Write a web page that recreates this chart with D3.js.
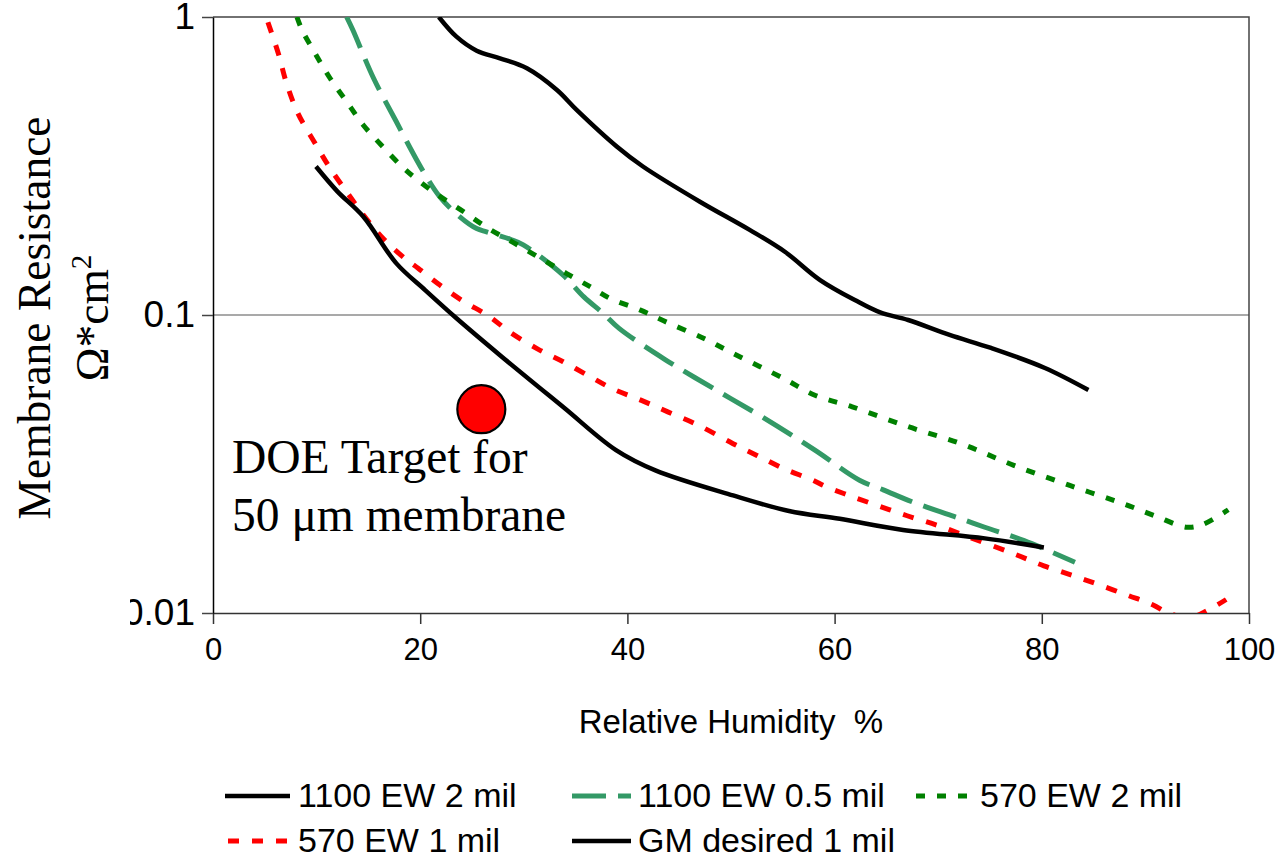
<!DOCTYPE html>
<html>
<head>
<meta charset="utf-8">
<script src="https://cdn.jsdelivr.net/npm/d3@7"></script>
<style>
  html, body { margin: 0; padding: 0; background: #fff; }
  svg { display: block; }
</style>
</head>
<body>
<svg id="chart" width="1281" height="857"></svg>
<script>
// ---------- data ----------
const seriesNames = ["1100 EW 2 mil", "1100 EW 0.5 mil", "570 EW 2 mil", "570 EW 1 mil", "GM desired 1 mil"];
const xTicks = [0, 20, 40, 60, 80, 100];
const yTicks = [1, 0.1, 0.01];
const yTickLabels = ["1", "0.1", "0.01"];

const ew1100_2mil = [[21.8,1.0],[23.5,0.859],[25.45,0.771],[27.7,0.727],[30.3,0.673],[33.2,0.569],[35.1,0.488],[39.0,0.367],[41.5,0.315],[47.0,0.240],[51.8,0.193],[55.2,0.163],[58.6,0.131],[62.0,0.112],[64.4,0.102],[67.1,0.0962],[71.1,0.0857],[75.1,0.0775],[80.3,0.0664],[84.5,0.056]];
const ew1100_05mil = [[12.9,1.0],[13.5,0.904],[15.5,0.623],[17.7,0.445],[18.7,0.382],[20.3,0.303],[21.9,0.249],[23.8,0.214],[25.45,0.195],[26.4,0.190],[28.7,0.1795],[29.95,0.172],[33.8,0.136],[35.8,0.115],[37.7,0.101],[39.2,0.0902],[43.6,0.071],[48.3,0.0567],[53.0,0.0455],[58.1,0.0352],[62.4,0.0279],[64.7,0.0259],[67.5,0.0236],[72.2,0.0207],[74.5,0.0194],[78.3,0.0175],[83.2,0.0148]];
const ew570_2mil = [[8.1,1.0],[8.6,0.904],[9.85,0.756],[11.3,0.623],[12.9,0.520],[14.5,0.434],[16.4,0.367],[18.4,0.311],[19.7,0.285],[21.7,0.253],[24.2,0.222],[26.6,0.195],[29.0,0.175],[31.6,0.155],[34.1,0.138],[36.4,0.1245],[38.3,0.1138],[41.2,0.104],[43.9,0.0942],[47.4,0.0834],[50.2,0.0743],[55.1,0.0612],[58.1,0.0538],[61.7,0.0492],[67.0,0.0423],[72.2,0.037],[77.3,0.0313],[82.7,0.0268],[88.1,0.0231],[90.9,0.0212],[94.0,0.0194],[95.5,0.0198],[98.0,0.0222]];
const ew570_1mil = [[5.3,0.96],[6.3,0.756],[7.1,0.599],[8.2,0.475],[9.85,0.377],[11.3,0.311],[12.9,0.259],[14.5,0.217],[16.4,0.181],[18.5,0.155],[19.8,0.1435],[21.9,0.126],[24.2,0.111],[26.6,0.0993],[28.6,0.0879],[31.4,0.0767],[33.8,0.0697],[36.4,0.0621],[38.5,0.0567],[41.3,0.0518],[43.9,0.0473],[46.9,0.0426],[50.2,0.037],[52.5,0.0338],[55.1,0.0305],[57.9,0.0279],[59.1,0.0266],[61.4,0.0248],[64.2,0.0229],[67.0,0.0212],[69.9,0.0197],[72.2,0.0184],[77.3,0.0158],[80.2,0.0144],[83.0,0.01335],[85.5,0.01245],[88.4,0.01143],[90.7,0.01066],[92.5,0.0099],[94.5,0.0097],[96.0,0.0102],[97.8,0.0111]];
const gm_1mil = [[9.94,0.315],[12.0,0.26],[14.5,0.214],[17.7,0.149],[20.5,0.121],[23.5,0.0975],[27.7,0.0733],[33.8,0.0491],[38.9,0.0352],[42.7,0.0301],[50.2,0.0248],[55.6,0.0220],[60.5,0.0207],[66.6,0.0190],[74.5,0.0178],[80.2,0.0166]];

const doeTarget = [[25.9, 0.0483]];
const doeLabel = ["DOE Target for", "50 \u03bcm membrane"];

// ---------- styles ----------
const styles = [
  { color: "#000000", width: 4.5, dash: null },
  { color: "#339966", width: 5,   dash: "34,12" },
  { color: "#008000", width: 5,   dash: "9,12" },
  { color: "#ff0000", width: 5,   dash: "11,13" },
  { color: "#000000", width: 4.5, dash: null }
];
const allSeries = [ew1100_2mil, ew1100_05mil, ew570_2mil, ew570_1mil, gm_1mil];

// ---------- layout ----------
const L = 213, R = 1249, T = 17, B = 613;
const svg = d3.select("#chart");
const x = d3.scaleLinear().domain([0, 100]).range([L, R]);
const y = d3.scaleLog().domain([0.01, 1]).range([B, T]);

const sans = "'Liberation Sans', Arial, sans-serif";
const serif = "'Liberation Serif', 'Times New Roman', serif";

const defs = svg.append("defs");
defs.append("clipPath").attr("id", "plotclip")
  .append("rect").attr("x", L).attr("y", T).attr("width", R - L).attr("height", B - T);
// clip (in the y-axis group's local coordinates) that cuts the left edge of the labels
defs.append("clipPath").attr("id", "labclip")
  .append("rect").attr("x", 130 - L).attr("y", -20).attr("width", 1281).attr("height", 900);

// gridline at 0.1
svg.append("line")
  .attr("x1", L).attr("x2", R).attr("y1", y(0.1)).attr("y2", y(0.1))
  .attr("stroke", "#555").attr("stroke-width", 1.2);

// top & right frame
svg.append("path")
  .attr("d", `M${L},${T}H${R}V${B}`)
  .attr("fill", "none").attr("stroke", "#444").attr("stroke-width", 1.5);

// axes
const xAxis = d3.axisBottom(x).tickValues(xTicks).tickSize(11).tickSizeOuter(0).tickPadding(14);
const gx = svg.append("g").attr("transform", `translate(0,${B})`).call(xAxis);
gx.select(".domain").attr("stroke", "#333").attr("stroke-width", 1.5);
gx.selectAll(".tick line").attr("stroke", "#333").attr("stroke-width", 1.5);
gx.selectAll(".tick text").attr("font-family", sans).attr("font-size", 31).attr("fill", "#000");

const yAxis = d3.axisLeft(y).tickValues(yTicks).tickFormat((d, i) => yTickLabels[i])
  .tickSize(11).tickSizeOuter(0).tickPadding(7);
const gy = svg.append("g").attr("transform", `translate(${L},0)`).attr("clip-path", "url(#labclip)");
gy.call(yAxis);
gy.select(".domain").attr("stroke", "#000").attr("stroke-width", 1.5);
gy.selectAll(".tick line").attr("stroke", "#444").attr("stroke-width", 1.5);
gy.selectAll(".tick text").attr("font-family", sans).attr("font-size", 37).attr("fill", "#000");

// series lines
const line = d3.line().x(d => x(d[0])).y(d => y(d[1])).curve(d3.curveCatmullRom.alpha(0.5));
const gl = svg.append("g").attr("clip-path", "url(#plotclip)");
allSeries.forEach((s, i) => {
  gl.append("path").datum(s)
    .attr("d", line)
    .attr("fill", "none")
    .attr("stroke", styles[i].color)
    .attr("stroke-width", styles[i].width)
    .attr("stroke-dasharray", styles[i].dash)
    .attr("stroke-linejoin", "round");
});

// DOE target
svg.selectAll("circle.doe").data(doeTarget).join("circle")
  .attr("class", "doe")
  .attr("cx", d => x(d[0])).attr("cy", d => y(d[1])).attr("r", 24)
  .attr("fill", "#ff0000").attr("stroke", "#000").attr("stroke-width", 2.2);

svg.selectAll("text.doe").data(doeLabel).join("text")
  .attr("class", "doe")
  .attr("x", 232).attr("y", (d, i) => 473 + i * 58)
  .attr("font-family", serif).attr("font-size", 47.5).attr("fill", "#000")
  .text(d => d);

// axis titles
svg.append("text")
  .attr("x", (L + R) / 2).attr("y", 733)
  .attr("text-anchor", "middle")
  .attr("font-family", sans).attr("font-size", 33).attr("fill", "#000")
  .attr("xml:space", "preserve")
  .text("Relative Humidity  %");

const yt = svg.append("text")
  .attr("transform", "translate(0,318) rotate(-90)")
  .attr("text-anchor", "middle")
  .attr("font-family", serif).attr("font-size", 45.5).attr("fill", "#000");
yt.append("tspan").attr("x", 0).attr("y", 50).text("Membrane Resistance");
const t2 = yt.append("tspan").attr("x", 0).attr("y", 108);
t2.text("\u03a9*cm");
yt.append("tspan").attr("dy", -17).attr("font-size", 29).text("2");

// legend
const legendPos = [
  { lx1: 225, lx2: 290, tx: 298, y: 796 },
  { lx1: 572, lx2: 631, tx: 638, y: 796 },
  { lx1: 916, lx2: 978, tx: 980, y: 796 },
  { lx1: 228, lx2: 290, tx: 298, y: 841 },
  { lx1: 572, lx2: 631, tx: 638, y: 841 }
];
const lg = svg.append("g");
seriesNames.forEach((name, i) => {
  const p = legendPos[i];
  lg.append("line")
    .attr("x1", p.lx1).attr("x2", p.lx2).attr("y1", p.y).attr("y2", p.y)
    .attr("stroke", styles[i].color).attr("stroke-width", styles[i].width)
    .attr("stroke-dasharray", styles[i].dash);
  lg.append("text")
    .attr("x", p.tx).attr("y", p.y + 11)
    .attr("font-family", sans).attr("font-size", 34).attr("fill", "#000")
    .text(name);
});
</script>
</body>
</html>
